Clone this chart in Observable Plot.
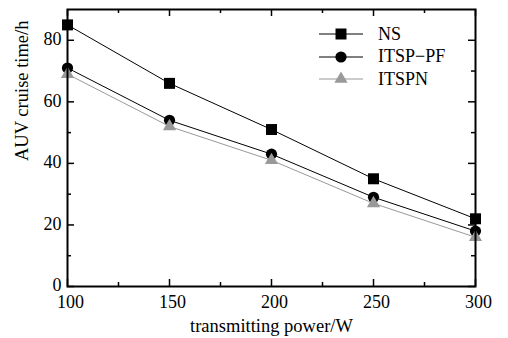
<!DOCTYPE html>
<html><head><meta charset="utf-8">
<script src="https://cdn.jsdelivr.net/npm/d3@7"></script>
<script src="https://cdn.jsdelivr.net/npm/@observablehq/plot@0.6"></script>
<style>
body{margin:0;background:#fff}
#c{position:relative;width:508px;height:338px;font-family:"Liberation Serif","Times New Roman",serif}
#legend{position:absolute;left:319px;top:23px}
.row{display:flex;align-items:center;height:22.5px;font-size:18px}
.row svg{margin-right:14px}
</style>
</head><body><div id="c"><div id="legend"></div></div>
<script>
const powers = [100, 150, 200, 250, 300];
const ns = [85, 66, 51, 35, 22];
const itspPf = [71, 54, 43, 29, 18];
const itspn = [69, 52, 41, 27, 16];
const seriesNames = ["NS", "ITSP\u2212PF", "ITSPN"];
const xTicks = [100, 150, 200, 250, 300];
const xMinor = [125, 175, 225, 275];
const yTicks = [0, 20, 40, 60, 80];
const yMinor = [10, 30, 50, 70];
const xLabel = "transmitting power/W";
const yLabel = "AUV cruise time/h";

const seriesVals = [ns, itspPf, itspn];
const colors = ["#000", "#000", "#999"];
const symbols = ["square", "circle", "triangle"];
const radii = [6.2, 5.6, 4.9];

const W = 508, H = 338, mt = 9, mb = 52, ml = 67, mr = 33;
const innerH = H - mt - mb, innerW = W - ml - mr;

const dataMarks = [];
seriesVals.forEach((vals, i) => {
  const rows = vals.map((v, j) => ({x: powers[j], y: v}));
  dataMarks.push(Plot.line(rows, {x: "x", y: "y", stroke: colors[i], strokeWidth: 1}));
  dataMarks.push(Plot.dot(rows, {x: "x", y: "y", symbol: symbols[i], r: radii[i], fill: colors[i], stroke: "none"}));
});

const plot = Plot.plot({
  width: W, height: H, marginLeft: ml, marginRight: mr, marginTop: mt, marginBottom: mb,
  style: {fontFamily: "'Liberation Serif','Times New Roman',serif", fontSize: "18px", color: "#000", background: "#fff", overflow: "visible"},
  x: {domain: [100, 300]},
  y: {domain: [0, 90]},
  marks: [
    Plot.axisX({ticks: xTicks, tickSize: 0, tickPadding: 9, dx: 3, label: null, tickFormat: d => String(d)}),
    Plot.axisY({ticks: yTicks, tickSize: 0, tickPadding: 6, dy: -1, label: null, tickFormat: d => String(d)}),
    // inward ticks on all four sides
    Plot.tickX(xTicks, {x: d => d, insetTop: innerH - 7, stroke: "#000", strokeWidth: 1.5}),
    Plot.tickX(xMinor, {x: d => d, insetTop: innerH - 4, stroke: "#000", strokeWidth: 1.5}),
    Plot.tickX(xTicks, {x: d => d, insetBottom: innerH - 7, stroke: "#000", strokeWidth: 1.5}),
    Plot.tickX(xMinor, {x: d => d, insetBottom: innerH - 4, stroke: "#000", strokeWidth: 1.5}),
    Plot.tickY(yTicks, {y: d => d, insetRight: innerW - 7, stroke: "#000", strokeWidth: 1.5}),
    Plot.tickY(yMinor, {y: d => d, insetRight: innerW - 4, stroke: "#000", strokeWidth: 1.5}),
    Plot.tickY(yTicks, {y: d => d, insetLeft: innerW - 7, stroke: "#000", strokeWidth: 1.5}),
    Plot.tickY(yMinor, {y: d => d, insetLeft: innerW - 4, stroke: "#000", strokeWidth: 1.5}),
    ...dataMarks,
    Plot.frame({stroke: "#000", strokeWidth: 2}),
    Plot.text([xLabel], {text: d => d, frameAnchor: "bottom", dy: 40, lineAnchor: "middle", fontSize: 18.5}),
    Plot.text([yLabel], {text: d => d, frameAnchor: "left", dx: -45, dy: 13, rotate: -90, lineAnchor: "middle", fontSize: 18.5})
  ]
});
document.getElementById("c").prepend(plot);

// legend
const legend = d3.select("#legend");
seriesNames.forEach((name, i) => {
  const row = legend.append("div").attr("class", "row");
  const svg = row.append("svg").attr("width", 45).attr("height", 16);
  svg.append("line").attr("x1", 0).attr("x2", 44).attr("y1", 8).attr("y2", 8)
     .attr("stroke", colors[i]).attr("stroke-width", 1);
  svg.append("path").attr("transform", "translate(22,8)")
     .attr("d", d3.symbol(i === 0 ? d3.symbolSquare : i === 1 ? d3.symbolCircle : d3.symbolTriangle, radii[i] * radii[i] * Math.PI)())
     .attr("fill", colors[i]);
  row.append("span").text(name);
});
</script>
</body></html>
